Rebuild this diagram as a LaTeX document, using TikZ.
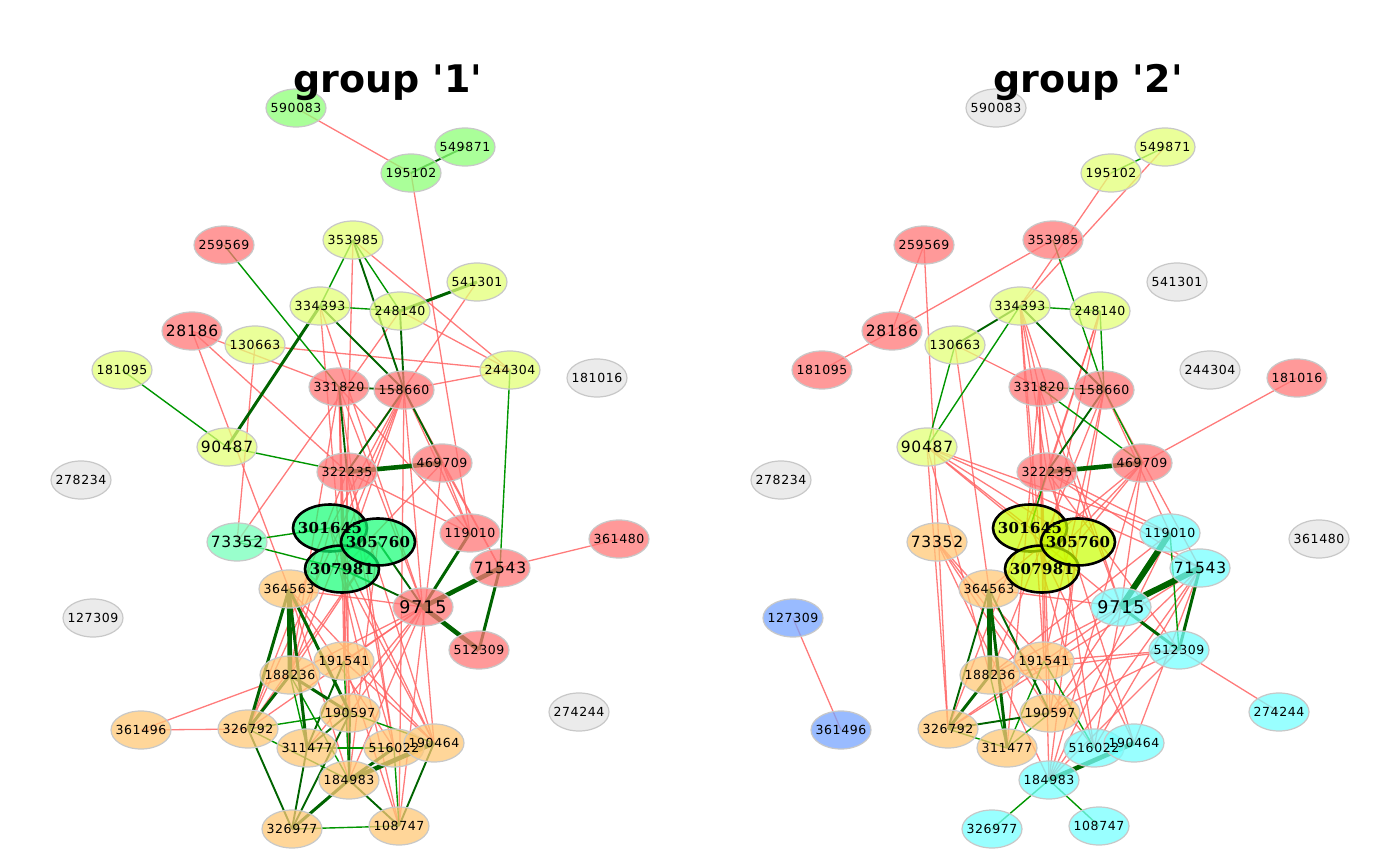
\documentclass[tikz,border=0pt]{standalone}
\usepackage{fontspec}
\setmainfont{DejaVu Sans}[LetterSpace=5]
\newfontfamily\bserif{DejaVu Serif}[LetterSpace=2]
\newfontfamily\titlefont{DejaVu Sans}
\usetikzlibrary{shapes.geometric,backgrounds}
\pgfdeclarelayer{fg}
\pgfsetlayers{background,main,fg}
\definecolor{cred}{RGB}{255,119,119}
\definecolor{cyel}{RGB}{227,255,119}
\definecolor{cgrn}{RGB}{142,255,119}
\definecolor{cmint}{RGB}{119,255,187}
\definecolor{cora}{RGB}{255,200,119}
\definecolor{cgry}{RGB}{228,228,228}
\definecolor{ccyan}{RGB}{119,255,255}
\definecolor{cblue}{RGB}{119,164,255}
\definecolor{cbigA}{RGB}{18,255,115}
\definecolor{cbigB}{RGB}{200,255,0}
\definecolor{bordc}{RGB}{200,200,200}
\definecolor{lred}{RGB}{255,100,100}
\definecolor{lgreen}{RGB}{0,150,0}
\definecolor{ldark}{RGB}{0,100,0}
\tikzset{
  nodebase/.style={ellipse,minimum width=60pt,minimum height=38pt,inner sep=0pt,
    draw=bordc,line width=1.2pt,fill opacity=0.75},
  bignode/.style={ellipse,minimum width=74pt,minimum height=47pt,inner sep=0pt,
    draw=black,line width=2.6pt,fill opacity=0.7},
  nred/.style={nodebase,fill=cred},
  nyel/.style={nodebase,fill=cyel},
  ngrn/.style={nodebase,fill=cgrn},
  nmint/.style={nodebase,fill=cmint},
  nora/.style={nodebase,fill=cora},
  ngry/.style={nodebase,fill=cgry},
  ncyan/.style={nodebase,fill=ccyan},
  nblue/.style={nodebase,fill=cblue},
  nbigA/.style={bignode,fill=cbigA},
  nbigB/.style={bignode,fill=cbigB},
  tn/.style={inner sep=0pt,font=\fontsize{12.5}{14}\selectfont},
  tb/.style={inner sep=0pt,font=\fontsize{15.5}{18}\selectfont},
  th/.style={inner sep=0pt,font=\fontsize{17.5}{20}\selectfont},
  tbold/.style={inner sep=0pt,font=\bserif\bfseries\fontsize{15}{18}\selectfont},
  ered/.style={draw=lred,line width=1.3pt,draw opacity=0.85},
  egreen/.style={draw=lgreen,line width=1.4pt},
  edark/.style={draw=ldark,line width=1.9pt},
  ethick/.style={draw=ldark,line width=3pt},
  ehuge/.style={draw=ldark,line width=4.6pt},
  titlestyle/.style={font=\titlefont\bfseries\fontsize{38}{40}\selectfont,anchor=base,inner sep=0pt}
}
% #1 shape style, #2 name, #3 position, #4 text style, #5 text
\newcommand\nd[5]{\node[#1] (#2) at (#3) {};%
  \begin{pgfonlayer}{fg}\node[#4] (#2-t) at (#3) {#5};\end{pgfonlayer}}
\begin{document}
\begin{tikzpicture}[x=1pt,y=-1pt]
\useasboundingbox (0,0) rectangle (1400,866);
% ---------------- group 1 nodes
\nd{ngrn}{a590083}{296,108}{tn}{590083}
\nd{ngrn}{a549871}{465,147}{tn}{549871}
\nd{ngrn}{a195102}{411,173}{tn}{195102}
\nd{nred}{a259569}{224,245}{tn}{259569}
\nd{nyel}{a353985}{353,240}{tn}{353985}
\nd{nyel}{a541301}{477,282}{tn}{541301}
\nd{nyel}{a334393}{320,306}{tn}{334393}
\nd{nyel}{a248140}{400,311}{tn}{248140}
\nd{nred}{a28186}{192,331}{tb}{28186}
\nd{nyel}{a130663}{255,345}{tn}{130663}
\nd{nyel}{a181095}{122,370}{tn}{181095}
\nd{nyel}{a244304}{510,370}{tn}{244304}
\nd{ngry}{a181016}{597,378}{tn}{181016}
\nd{nred}{a331820}{339,387}{tn}{331820}
\nd{nred}{a158660}{404,390}{tn}{158660}
\nd{nyel}{a90487}{227,447}{tb}{90487}
\nd{nred}{a322235}{347,472}{tn}{322235}
\nd{nred}{a469709}{442,463}{tn}{469709}
\nd{ngry}{a278234}{81,480}{tn}{278234}
\nd{nmint}{a73352}{237,542}{tb}{73352}
\nd{nred}{a119010}{470,533}{tn}{119010}
\nd{nred}{a71543}{500,568}{tb}{71543}
\nd{nred}{a361480}{619,539}{tn}{361480}
\nd{nora}{a364563}{289,589}{tn}{364563}
\nd{nred}{a9715}{423,607}{th}{9715}
\nd{ngry}{a127309}{93,618}{tn}{127309}
\nd{nred}{a512309}{479,650}{tn}{512309}
\nd{nora}{a191541}{344,661}{tn}{191541}
\nd{nora}{a188236}{290,675}{tn}{188236}
\nd{ngry}{a274244}{579,712}{tn}{274244}
\nd{nora}{a190597}{350,713}{tn}{190597}
\nd{nora}{a361496}{141,730}{tn}{361496}
\nd{nora}{a326792}{248,729}{tn}{326792}
\nd{nora}{a311477}{307,748}{tn}{311477}
\nd{nora}{a516022}{394,748}{tn}{516022}
\nd{nora}{a190464}{434,743}{tn}{190464}
\nd{nora}{a184983}{349,780}{tn}{184983}
\nd{nora}{a326977}{292,829}{tn}{326977}
\nd{nora}{a108747}{399,826}{tn}{108747}
\nd{nbigA}{a301645}{330,528}{tbold}{301645}
\nd{nbigA}{a307981}{342,569}{tbold}{307981}
\nd{nbigA}{a305760}{378,542}{tbold}{305760}
% ---------------- group 2 nodes
\nd{ngry}{b590083}{996,108}{tn}{590083}
\nd{nyel}{b549871}{1165,147}{tn}{549871}
\nd{nyel}{b195102}{1111,173}{tn}{195102}
\nd{nred}{b259569}{924,245}{tn}{259569}
\nd{nred}{b353985}{1053,240}{tn}{353985}
\nd{ngry}{b541301}{1177,282}{tn}{541301}
\nd{nyel}{b334393}{1020,306}{tn}{334393}
\nd{nyel}{b248140}{1100,311}{tn}{248140}
\nd{nred}{b28186}{892,331}{tb}{28186}
\nd{nyel}{b130663}{955,345}{tn}{130663}
\nd{nred}{b181095}{822,370}{tn}{181095}
\nd{ngry}{b244304}{1210,370}{tn}{244304}
\nd{nred}{b181016}{1297,378}{tn}{181016}
\nd{nred}{b331820}{1039,387}{tn}{331820}
\nd{nred}{b158660}{1104,390}{tn}{158660}
\nd{nyel}{b90487}{927,447}{tb}{90487}
\nd{nred}{b322235}{1047,472}{tn}{322235}
\nd{nred}{b469709}{1142,463}{tn}{469709}
\nd{ngry}{b278234}{781,480}{tn}{278234}
\nd{nora}{b73352}{937,542}{tb}{73352}
\nd{ncyan}{b119010}{1170,533}{tn}{119010}
\nd{ncyan}{b71543}{1200,568}{tb}{71543}
\nd{ngry}{b361480}{1319,539}{tn}{361480}
\nd{nora}{b364563}{989,589}{tn}{364563}
\nd{ncyan}{b9715}{1121,607}{th}{9715}
\nd{nblue}{b127309}{793,618}{tn}{127309}
\nd{ncyan}{b512309}{1179,650}{tn}{512309}
\nd{nora}{b191541}{1044,661}{tn}{191541}
\nd{nora}{b188236}{990,675}{tn}{188236}
\nd{ncyan}{b274244}{1279,712}{tn}{274244}
\nd{nora}{b190597}{1050,713}{tn}{190597}
\nd{nblue}{b361496}{841,730}{tn}{361496}
\nd{nora}{b326792}{948,729}{tn}{326792}
\nd{nora}{b311477}{1007,748}{tn}{311477}
\nd{ncyan}{b516022}{1094,748}{tn}{516022}
\nd{ncyan}{b190464}{1134,743}{tn}{190464}
\nd{ncyan}{b184983}{1049,780}{tn}{184983}
\nd{ncyan}{b326977}{992,829}{tn}{326977}
\nd{ncyan}{b108747}{1099,826}{tn}{108747}
\nd{nbigB}{b301645}{1030,528}{tbold}{301645}
\nd{nbigB}{b307981}{1042,569}{tbold}{307981}
\nd{nbigB}{b305760}{1078,542}{tbold}{305760}
% ---------------- titles
\begin{pgfonlayer}{fg}
\node[titlestyle] (t1) at (388,93) {group \textquotesingle1\textquotesingle};
\node[titlestyle] (t2) at (1088,93) {group \textquotesingle2\textquotesingle};
\end{pgfonlayer}
% ---------------- edges
\begin{pgfonlayer}{background}
% group 1 red
\foreach \u/\v in {590083/195102,195102/119010,353985/244304,353985/322235,541301/322235,
  248140/244304,248140/73352,130663/244304,130663/73352,28186/331820,28186/322235,28186/364563,
  158660/244304,334393/307981,334393/9715,
  331820/119010,331820/9715,331820/191541,331820/190597,331820/516022,331820/188236,331820/184983,
  158660/71543,158660/119010,158660/190464,158660/108747,158660/188236,158660/326792,158660/301645,158660/307981,
  469709/71543,469709/119010,469709/108747,469709/307981,
  322235/119010,322235/190464,322235/326792,322235/191541,322235/516022,322235/184983,
  71543/361480,
  301645/108747,301645/190464,301645/188236,305760/184983,305760/326792,305760/188236,307981/190464,307981/516022,
  9715/364563,9715/188236,9715/191541,9715/326792,9715/311477,9715/190597,9715/184983,
  188236/361496,326792/361496,364563/516022,364563/190464,364563/184983,
  191541/190464,191541/108747}
  \draw[ered] (a\u.center) -- (a\v.center);
% group 1 green
\foreach \u/\v in {353985/334393,353985/248140,334393/248140,259569/331820,181095/90487,90487/322235,
  244304/71543,73352/301645,73352/307981,188236/311477,188236/184983,326792/190597,326792/184983,
  326977/108747,311477/516022,191541/184983,190597/190464,516022/108747}
  \draw[egreen] (a\u.center) -- (a\v.center);
\foreach \u/\v in {195102/549871,353985/158660,334393/158660,248140/158660,331820/158660,331820/322235,
  158660/322235,158660/469709,326792/326977,326977/311477,326977/190597,311477/190597,191541/311477,
  190597/184983,184983/108747,190464/108747,305760/9715,307981/9715}
  \draw[edark] (a\u.center) -- (a\v.center);
\foreach \u/\v in {334393/90487,541301/248140,119010/9715,71543/512309,188236/326792,188236/190597,
  364563/326792,364563/311477,364563/190597,326977/184983,184983/516022}
  \draw[ethick] (a\u.center) -- (a\v.center);
\foreach \u/\v in {322235/469709,71543/9715,9715/512309,364563/188236,184983/190464}
  \draw[ehuge] (a\u.center) -- (a\v.center);
% group 2 red
\foreach \u/\v in {549871/334393,195102/334393,353985/28186,259569/28186,259569/326792,28186/181095,
  130663/331820,130663/364563,181016/469709,127309/361496,512309/274244,
  334393/331820,334393/322235,334393/307981,334393/191541,334393/9715,
  248140/322235,248140/301645,248140/307981,
  90487/301645,90487/305760,90487/119010,90487/71543,90487/9715,90487/326792,90487/188236,
  73352/191541,73352/190597,73352/516022,73352/184983,
  331820/191541,331820/190597,331820/184983,331820/516022,331820/9715,331820/311477,
  158660/119010,158660/71543,158660/191541,158660/188236,158660/190597,
  322235/119010,322235/71543,322235/512309,322235/190464,322235/326792,
  469709/305760,469709/307981,469709/9715,469709/364563,469709/184983,
  119010/184983,119010/188236,119010/190597,
  71543/184983,71543/516022,71543/190464,71543/190597,71543/326792,
  512309/191541,512309/190597,512309/188236,512309/184983,
  9715/188236,9715/326792,9715/516022,9715/364563,
  301645/190464,305760/184983,307981/516022}
  \draw[ered] (b\u.center) -- (b\v.center);
% group 2 green
\foreach \u/\v in {195102/549871,353985/158660,334393/248140,334393/90487,130663/90487,248140/158660,
  331820/158660,331820/469709,158660/469709,322235/301645,119010/512309,188236/311477,326792/311477,
  311477/190597,311477/191541,191541/516022,184983/326977,184983/108747}
  \draw[egreen] (b\u.center) -- (b\v.center);
\foreach \u/\v in {334393/130663,334393/158660,158660/322235,364563/326792,326792/190597,364563/190597}
  \draw[edark] (b\u.center) -- (b\v.center);
\foreach \u/\v in {9715/512309,71543/512309,364563/311477,188236/326792}
  \draw[ethick] (b\u.center) -- (b\v.center);
\foreach \u/\v in {322235/469709,364563/188236,184983/190464}
  \draw[ehuge] (b\u.center) -- (b\v.center);
\draw[ehuge,line width=6pt] (b119010.center) -- (b9715.center);
\draw[ehuge,line width=6pt] (b71543.center) -- (b9715.center);
\end{pgfonlayer}
\end{tikzpicture}
\end{document}
